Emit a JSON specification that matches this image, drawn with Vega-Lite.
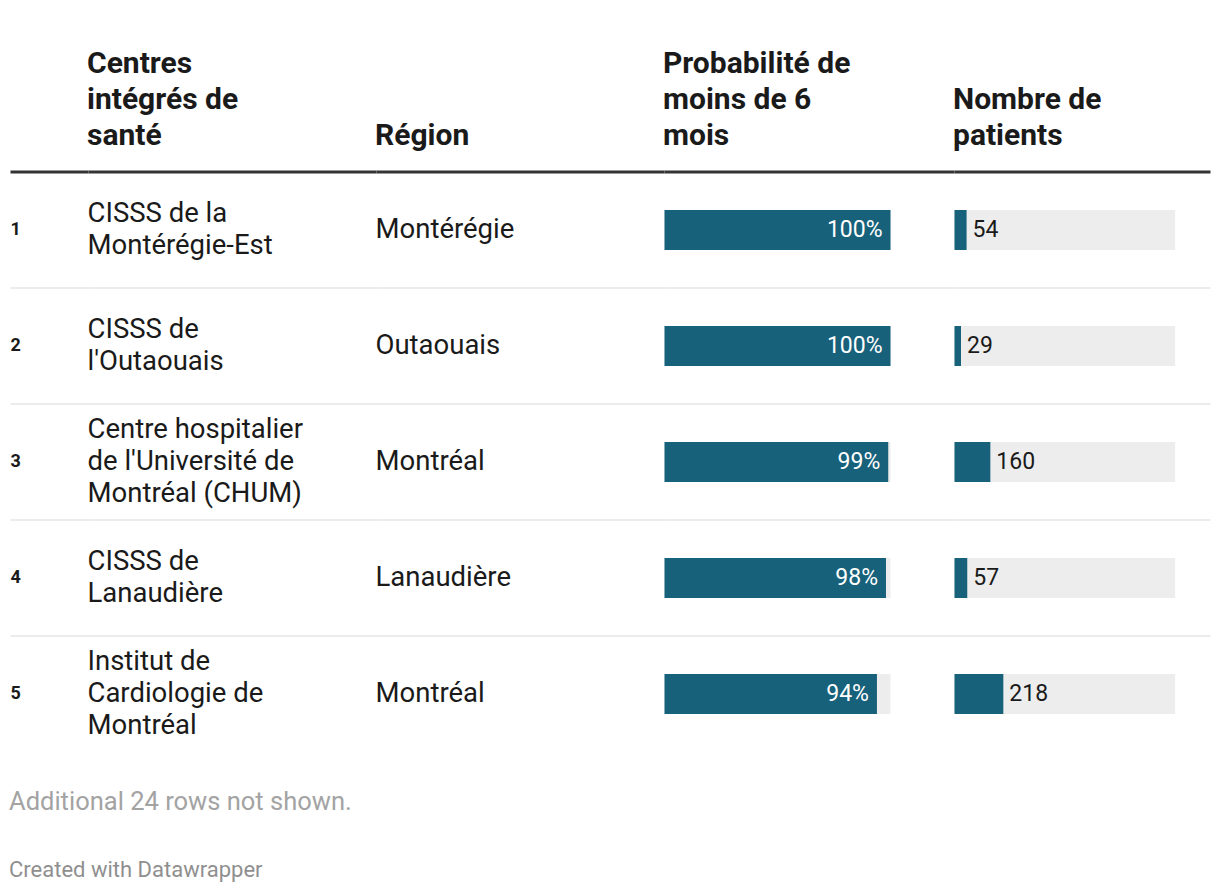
{
  "$schema": "https://vega.github.io/schema/vega-lite/v6.json",
  "background": "white",
  "padding": {"left": 8.5, "top": 48, "right": 8, "bottom": 4},
  "config": {
    "view": {"stroke": null},
    "font": "Roboto",
    "title": {"anchor": "start", "fontSize": 30, "fontWeight": "bold", "lineHeight": 36, "color": "#1a1a1a", "offset": 20, "font": "Roboto"}
  },
  "datasets": {
    "rows": [
      {"rank": 1, "name": "CISSS de la\nMontérégie-Est", "region": "Montérégie", "prob": 1.0, "patients": 54},
      {"rank": 2, "name": "CISSS de\nl'Outaouais", "region": "Outaouais", "prob": 1.0, "patients": 29},
      {"rank": 3, "name": "Centre hospitalier\nde l'Université de\nMontréal (CHUM)", "region": "Montréal", "prob": 0.99, "patients": 160},
      {"rank": 4, "name": "CISSS de\nLanaudière", "region": "Lanaudière", "prob": 0.98, "patients": 57},
      {"rank": 5, "name": "Institut de\nCardiologie de\nMontréal", "region": "Montréal", "prob": 0.94, "patients": 218}
    ]
  },
  "data": {"name": "rows"},
  "bounds": "flush",
  "spacing": 0,
  "resolve": {"scale": {"x": "independent", "y": "shared"}},
  "title": {
    "text": "Additional 24 rows not shown.",
    "subtitle": "Created with Datawrapper",
    "orient": "bottom",
    "anchor": "start",
    "fontSize": 25.5,
    "fontWeight": "normal",
    "color": "#a3a3a3",
    "subtitleFontSize": 22,
    "subtitleColor": "#8f8f8f",
    "subtitleFont": "Roboto",
    "subtitlePadding": 44,
    "offset": 38,
    "lineHeight": 28
  },
  "hconcat": [
    {
      "width": 78,
      "height": 580,
      "layer": [
        {"mark": {"type": "rule", "color": "#333333", "strokeWidth": 3}, "transform": [{"filter": "datum.rank == 1"}], "encoding": {"y": {"field": "rank", "type": "ordinal", "bandPosition": 0, "axis": null, "scale": {"paddingInner": 0, "paddingOuter": 0}}}},
        {"mark": {"type": "rule", "color": "#e6e6e6", "strokeWidth": 1.5}, "transform": [{"filter": "datum.rank < 5"}], "encoding": {"y": {"field": "rank", "type": "ordinal", "bandPosition": 1, "axis": null}}},
        {"mark": {"type": "text", "align": "left", "baseline": "middle", "fontSize": 18, "fontWeight": "bold", "color": "#1a1a1a", "dx": 0}, "encoding": {"x": {"datum": 0, "type": "quantitative", "scale": {"domain": [0, 1]}, "axis": null}, "y": {"field": "rank", "type": "ordinal", "axis": null}, "text": {"field": "rank"}}}
      ]
    },
    {
      "width": 288,
      "height": 580,
      "title": {"text": ["Centres", "intégrés de", "santé"]},
      "layer": [
        {"mark": {"type": "rule", "color": "#333333", "strokeWidth": 3}, "transform": [{"filter": "datum.rank == 1"}], "encoding": {"y": {"field": "rank", "type": "ordinal", "bandPosition": 0, "axis": null}}},
        {"mark": {"type": "rule", "color": "#e6e6e6", "strokeWidth": 1.5}, "transform": [{"filter": "datum.rank < 5"}], "encoding": {"y": {"field": "rank", "type": "ordinal", "bandPosition": 1, "axis": null}}},
        {"mark": {"type": "text", "align": "left", "baseline": "middle", "fontSize": 27.5, "lineHeight": 32, "lineBreak": "\n", "dx": -1, "dy": -16, "color": "#1a1a1a"}, "transform": [{"filter": "length(split(datum.name, '\\n')) == 2"}], "encoding": {"x": {"datum": 0, "type": "quantitative", "scale": {"domain": [0, 1]}, "axis": null}, "y": {"field": "rank", "type": "ordinal", "axis": null}, "text": {"field": "name"}}},
        {"mark": {"type": "text", "align": "left", "baseline": "middle", "fontSize": 27.5, "lineHeight": 32, "lineBreak": "\n", "dx": -1, "dy": -32, "color": "#1a1a1a"}, "transform": [{"filter": "length(split(datum.name, '\\n')) == 3"}], "encoding": {"x": {"datum": 0, "type": "quantitative", "scale": {"domain": [0, 1]}, "axis": null}, "y": {"field": "rank", "type": "ordinal", "axis": null}, "text": {"field": "name"}}}
      ]
    },
    {
      "width": 288,
      "height": 580,
      "title": {"text": "Région"},
      "layer": [
        {"mark": {"type": "rule", "color": "#333333", "strokeWidth": 3}, "transform": [{"filter": "datum.rank == 1"}], "encoding": {"y": {"field": "rank", "type": "ordinal", "bandPosition": 0, "axis": null}}},
        {"mark": {"type": "rule", "color": "#e6e6e6", "strokeWidth": 1.5}, "transform": [{"filter": "datum.rank < 5"}], "encoding": {"y": {"field": "rank", "type": "ordinal", "bandPosition": 1, "axis": null}}},
        {"mark": {"type": "text", "align": "left", "baseline": "middle", "fontSize": 27.5, "dx": -1, "color": "#1a1a1a"}, "encoding": {"x": {"datum": 0, "type": "quantitative", "scale": {"domain": [0, 1]}, "axis": null}, "y": {"field": "rank", "type": "ordinal", "axis": null}, "text": {"field": "region"}}}
      ]
    },
    {
      "width": 290,
      "height": 580,
      "title": {"text": ["Probabilité de", "moins de 6", "mois"]},
      "layer": [
        {"mark": {"type": "rule", "color": "#333333", "strokeWidth": 3}, "transform": [{"filter": "datum.rank == 1"}], "encoding": {"y": {"field": "rank", "type": "ordinal", "bandPosition": 0, "axis": null}}},
        {"mark": {"type": "rule", "color": "#e6e6e6", "strokeWidth": 1.5}, "transform": [{"filter": "datum.rank < 5"}], "encoding": {"y": {"field": "rank", "type": "ordinal", "bandPosition": 1, "axis": null}}},
        {"mark": {"type": "bar", "size": 40, "color": "#ededed"}, "encoding": {"x": {"datum": 1, "type": "quantitative", "scale": {"domain": [0, 1], "range": [0, 226]}, "axis": null}, "y": {"field": "rank", "type": "ordinal", "axis": null}}},
        {"mark": {"type": "bar", "size": 40, "color": "#17617b"}, "encoding": {"x": {"field": "prob", "type": "quantitative", "axis": null}, "y": {"field": "rank", "type": "ordinal", "axis": null}}},
        {"mark": {"type": "text", "align": "right", "baseline": "middle", "fontSize": 23, "dx": -8, "color": "#ffffff"}, "encoding": {"x": {"field": "prob", "type": "quantitative", "axis": null}, "y": {"field": "rank", "type": "ordinal", "axis": null}, "text": {"field": "prob", "type": "quantitative", "format": ".0%"}}}
      ]
    },
    {
      "width": 256,
      "height": 580,
      "title": {"text": ["Nombre de", "patients"]},
      "layer": [
        {"mark": {"type": "rule", "color": "#333333", "strokeWidth": 3}, "transform": [{"filter": "datum.rank == 1"}], "encoding": {"y": {"field": "rank", "type": "ordinal", "bandPosition": 0, "axis": null}}},
        {"mark": {"type": "rule", "color": "#e6e6e6", "strokeWidth": 1.5}, "transform": [{"filter": "datum.rank < 5"}], "encoding": {"y": {"field": "rank", "type": "ordinal", "bandPosition": 1, "axis": null}}},
        {"mark": {"type": "bar", "size": 40, "color": "#ededed"}, "encoding": {"x": {"datum": 985, "type": "quantitative", "scale": {"domain": [0, 985], "range": [0, 224]}, "axis": null}, "y": {"field": "rank", "type": "ordinal", "axis": null}}},
        {"mark": {"type": "bar", "size": 40, "color": "#17617b"}, "encoding": {"x": {"field": "patients", "type": "quantitative", "axis": null}, "y": {"field": "rank", "type": "ordinal", "axis": null}}},
        {"mark": {"type": "text", "align": "left", "baseline": "middle", "fontSize": 23, "dx": 6, "color": "#1a1a1a"}, "encoding": {"x": {"field": "patients", "type": "quantitative", "axis": null}, "y": {"field": "rank", "type": "ordinal", "axis": null}, "text": {"field": "patients", "type": "quantitative"}}}
      ]
    }
  ]
}
